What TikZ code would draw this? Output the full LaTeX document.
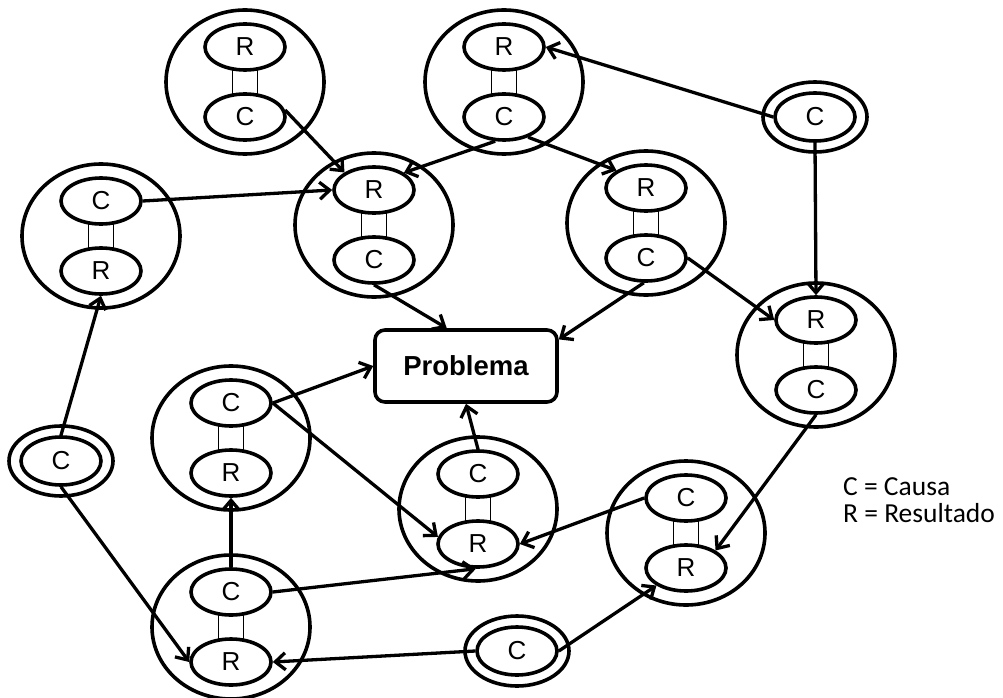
\documentclass[tikz,border=0pt]{standalone}
\usepackage{fontspec}
\setmainfont{Liberation Sans}
\newfontfamily\legendfont{Carlito}
\usetikzlibrary{shapes.geometric,arrows.meta,calc,backgrounds}

% A cause/result pair: ring #1 centred at #2, upper cell #3, lower cell #4
\newcommand{\ringpair}[4]{%
  \node[ring] (#1) at (#2) {};
  \node[cell] (#1#3) at ($(#2)+(0,-35)$) {#3};
  \node[cell] (#1#4) at ($(#2)+(0,35)$) {#4};
  \begin{scope}[on background layer]
    \draw[link] ([xshift=-12.5pt]#1#3.center) -- ([xshift=-12.5pt]#1#4.center)
                ([xshift=12.5pt]#1#3.center) -- ([xshift=12.5pt]#1#4.center);
  \end{scope}}

\begin{document}
\begin{tikzpicture}[x=1pt,y=-1pt,
  ring/.style={ellipse,draw,line width=3.6pt,minimum width=158pt,minimum height=144pt,inner sep=0pt},
  cell/.style={ellipse,draw,line width=3.6pt,fill=white,minimum width=80pt,minimum height=46pt,inner sep=0pt,font=\fontsize{26}{30}\selectfont},
  halo/.style={ellipse,draw,line width=3.6pt,minimum width=104pt,minimum height=70pt,inner sep=0pt},
  core/.style={cell,minimum width=80pt,minimum height=48pt},
  link/.style={line width=1.6pt},
  arr/.style={line width=3.3pt,-{Straight Barb[length=10pt,width=17pt,line width=3.3pt]}},
  keytext/.style={anchor=base west,inner sep=0pt,font=\legendfont\fontsize{27.5}{32}\selectfont}]
\useasboundingbox (0,0) rectangle (1003,698);

% cause/result pairs
\ringpair{A}{245,82}{R}{C}
\ringpair{B}{504,82}{R}{C}
\ringpair{D}{101,236}{C}{R}
\ringpair{E}{374,225}{R}{C}
\ringpair{F}{646,223}{R}{C}
\ringpair{G}{816,355}{R}{C}
\ringpair{H}{231,438}{C}{R}
\ringpair{I}{478,509}{C}{R}
\ringpair{J}{686,533}{C}{R}
\ringpair{K}{231,627}{C}{R}

% root causes
\node[halo] (trOut) at (815,117) {};
\node[core] (tr) at (815,117) {C};
\node[halo] (lfOut) at (61,461) {};
\node[core] (lf) at (61,461) {C};
\node[halo] (btOut) at (517,651) {};
\node[core] (bt) at (517,651) {C};

% the problem
\node[draw,line width=3.6pt,rounded corners=10pt,minimum width=182pt,minimum height=72pt,
      font=\fontsize{27.5}{32}\selectfont\bfseries] (P) at (466,366) {Problema};

% causal links
\draw[arr] (AC.10) -- (ER.north west);
\draw[arr] (BC.250) -- (ER.30);
\draw[arr] (BC.-40) -- (FR.north west);
\draw[arr] (tr.west) -- (BR.east);
\draw[arr] (tr.south) -- (GR.north);
\draw[arr] (DC.east) -- (ER.west);
\draw[arr] (EC.south) -- (P.117);
\draw[arr] (FC.265) -- (P.16);
\draw[arr] (FC.east) -- (GR.west);
\draw[arr] (lf.north) -- (DR.south);
\draw[arr] (lf.south) -- (KR.west);
\draw[arr] (HC.east) -- (P.west);
\draw[arr] (HC.east) -- (IR.170);
\draw[arr] (IC.north) -- (P.south);
\draw[arr] (KC.north) -- (HR.south);
\draw[arr] (KC.east) -- (IR.265);
\draw[arr] (JC.west) -- (IR.east);
\draw[arr] (GC.south) -- (JR.north east);
\draw[arr] (bt.west) -- (KR.east);
\draw[arr] (bt.east) -- (JR.south west);

% legend
\node[keytext] (keyC) at (843,495) {C = Causa};
\node[keytext] (keyR) at (843,522) {R = Resultado};
\end{tikzpicture}
\end{document}
